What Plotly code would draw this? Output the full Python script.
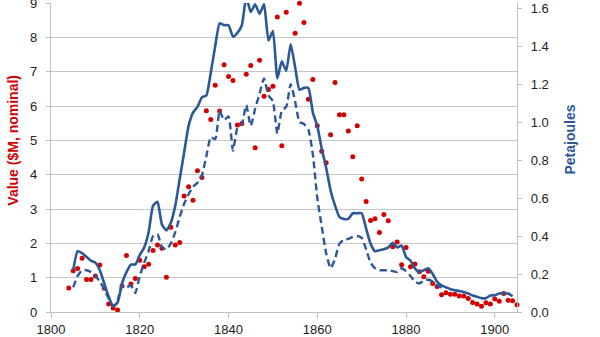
import plotly.graph_objects as go

# Annual value of the catch, $M nominal (left axis)
value_years = list(range(1804, 1906))
value_musd = [
    0.70, 1.20, 1.27, 1.57, 0.95, 0.95, 1.05, 1.37, 0.69, 0.23,
    0.12, 0.06, 0.76, 1.65, 0.82, 0.98, 1.51, 1.32, 1.39, 1.79,
    1.95, 1.86, 1.01, 2.47, 1.95, 2.03, 3.38, 3.65, 3.26, 4.12,
    3.92, 5.87, 5.61, 6.61, 5.86, 7.21, 6.87, 6.75, 5.45, 5.50,
    6.93, 7.19, 4.79, 7.34, 6.29, 6.49, 6.58, 8.60, 4.85, 8.74,
    10.80, 8.13, 9.00, 8.44, 6.20, 6.78, 5.43, 4.69, 4.35, 5.17,
    6.69, 5.75, 5.75, 5.28, 4.53, 5.43, 3.88, 3.22, 2.67, 2.72,
    2.32, 2.84, 2.66, 1.90, 2.04, 1.38, 1.88, 1.32, 1.40, 1.17,
    1.03, 1.19, 0.83, 0.74, 0.50, 0.56, 0.52, 0.52, 0.47, 0.47,
    0.39, 0.28, 0.23, 0.17, 0.27, 0.23, 0.38, 0.31, 0.54, 0.34,
    0.33, 0.21,
]

# Energy content, petajoules (right axis) - upper estimate
energy_years = list(range(1805, 1905))
energy_total_pj = [
    0.22, 0.32, 0.31, 0.29, 0.27, 0.26, 0.22, 0.15, 0.08, 0.03,
    0.05, 0.15, 0.21, 0.25, 0.25, 0.30, 0.34, 0.42, 0.56, 0.58,
    0.46, 0.43, 0.47, 0.56, 0.70, 0.84, 0.98, 1.05, 1.08, 1.13,
    1.14, 1.26, 1.40, 1.52, 1.51, 1.51, 1.45, 1.47, 1.51, 1.66,
    1.58, 1.62, 1.57, 1.62, 1.43, 1.48, 1.23, 1.32, 1.27, 1.41,
    1.29, 1.17, 1.18, 1.18, 1.05, 0.98, 0.86, 0.76, 0.64, 0.56,
    0.50, 0.49, 0.49, 0.52, 0.52, 0.52, 0.44, 0.36, 0.32, 0.325,
    0.33, 0.34, 0.365, 0.34, 0.35, 0.29, 0.27, 0.23, 0.21, 0.22,
    0.23, 0.20, 0.16, 0.14, 0.13, 0.12, 0.115, 0.11, 0.105, 0.097,
    0.087, 0.080, 0.073, 0.073, 0.087, 0.088, 0.097, 0.099, 0.097, 0.083,
]

# Energy content, petajoules (right axis) - lower estimate
energy_low_years = list(range(1805, 1890))
energy_low_pj = [
    0.13, 0.19, 0.22, 0.22, 0.21, 0.19, 0.16, 0.12, 0.07, 0.03,
    0.06, 0.14, 0.13, 0.14, 0.10, 0.19, 0.26, 0.32, 0.40, 0.41,
    0.34, 0.33, 0.36, 0.42, 0.50, 0.57, 0.62, 0.66, 0.68, 0.72,
    0.82, 0.92, 0.91, 1.06, 1.01, 1.03, 0.85, 0.97, 0.99, 1.09,
    0.98, 1.07, 1.15, 1.23, 1.14, 1.11, 0.94, 1.06, 1.08, 1.20,
    1.11, 1.00, 0.99, 0.96, 0.83, 0.60, 0.45, 0.31, 0.23, 0.28,
    0.36, 0.38, 0.385, 0.395, 0.40, 0.39, 0.33, 0.26, 0.23, 0.22,
    0.22, 0.22, 0.215, 0.21, 0.23, 0.215, 0.19, 0.16, 0.15, 0.165,
    0.17, 0.16, 0.14, 0.13, 0.127,
]

x_ticks = [1800, 1820, 1840, 1860, 1880, 1900]
left_ticks = list(range(0, 10))
right_ticks = [0.0, 0.2, 0.4, 0.6, 0.8, 1.0, 1.2, 1.4, 1.6]

RED = "#D40000"
BLUE = "#2C5896"
AXIS_GREY = "#BFBFBF"
FONT = "Liberation Sans, Arial, sans-serif"

fig = go.Figure()

fig.add_trace(go.Scatter(
    x=energy_years, y=energy_total_pj, yaxis="y2", mode="lines",
    line=dict(color=BLUE, width=2.6, shape="spline", smoothing=0.5),
    showlegend=False,
))
fig.add_trace(go.Scatter(
    x=energy_low_years, y=energy_low_pj, yaxis="y2", mode="lines",
    line=dict(color=BLUE, width=2.4, dash="7px,4px", shape="spline", smoothing=0.5),
    showlegend=False,
))
fig.add_trace(go.Scatter(
    x=value_years, y=value_musd, mode="markers",
    marker=dict(color=RED, size=5, symbol="circle"),
    cliponaxis=False, showlegend=False,
))

fig.update_layout(
    width=600, height=337,
    margin=dict(l=51, r=83, t=3, b=25, autoexpand=False),
    paper_bgcolor="white", plot_bgcolor="white",
    font=dict(family=FONT, size=13, color="#222222"),
    xaxis=dict(
        range=[1800, 1905], tickvals=x_ticks, automargin=False,
        showgrid=False, zeroline=False,
        showline=True, linecolor=AXIS_GREY, linewidth=1.3,
        ticks="outside", ticklen=5, tickcolor=AXIS_GREY,
    ),
    yaxis=dict(
        range=[0, 9.01], tickvals=left_ticks, automargin=False,
        showgrid=True, gridcolor="#C6C6C6", gridwidth=1.4,
        zeroline=False,
        showline=True, linecolor=AXIS_GREY, linewidth=1.3,
        ticks="outside", ticklen=4, tickcolor=AXIS_GREY,
        ticklabelstandoff=6, ticklabeloverflow="allow",
    ),
    yaxis2=dict(
        range=[0, 1.627], tickvals=right_ticks, tickformat=".1f",
        automargin=False,
        overlaying="y", side="right",
        showgrid=False, zeroline=False,
        showline=True, linecolor=AXIS_GREY, linewidth=1.3,
        ticks="outside", ticklen=4, tickcolor=AXIS_GREY,
        ticklabelstandoff=6, ticklabeloverflow="allow",
    ),
    annotations=[
        dict(text="Value ($M, nominal)", xref="paper", yref="paper",
             x=-0.082, y=0.557, xanchor="center", yanchor="middle",
             textangle=-90, showarrow=False,
             font=dict(family=FONT, size=14, color=RED, weight="bold")),
        dict(text="Petajoules", xref="paper", yref="paper",
             x=1.113, y=0.557, xanchor="center", yanchor="middle",
             textangle=-90, showarrow=False,
             font=dict(family=FONT, size=14, color=BLUE, weight="bold")),
    ],
)

fig.write_html("out.html")
